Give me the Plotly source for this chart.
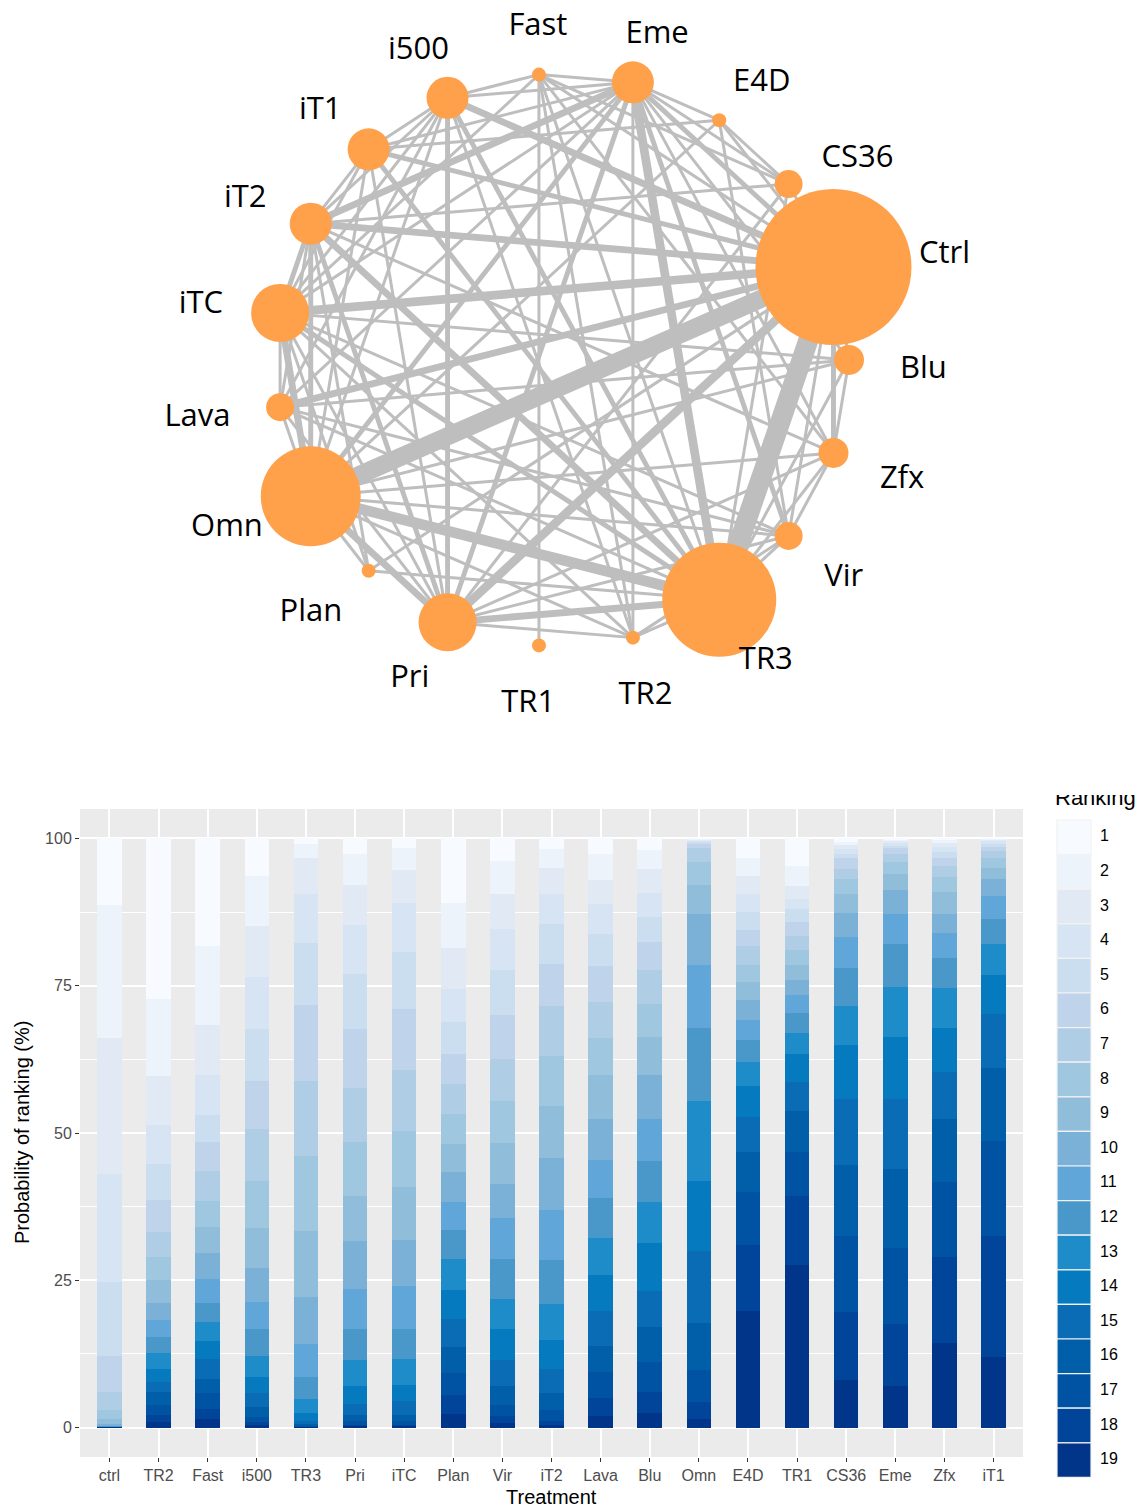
import numpy as np
import plotly.graph_objects as go

# ---------------- data: ranking probabilities ----------------
treatments = ["ctrl", "TR2", "Fast", "i500", "TR3", "Pri", "iTC", "Plan", "Vir", "iT2",
              "Lava", "Blu", "Omn", "E4D", "TR1", "CS36", "Eme", "Zfx", "iT1"]
ranks = [str(k) for k in range(1, 20)]

# cumulative probability (%) of being ranked worse than k, for k = 1..18
worse_ctrl = [88.7, 66.1, 43.0, 24.7, 12.2, 6.0, 2.9, 1.4, 0.6, 0.3, 0.2, 0.15, 0.1, 0.07, 0.05, 0.03, 0.02, 0.01]
worse_TR2 = [72.8, 59.7, 51.4, 44.7, 38.7, 33.2, 28.9, 25.0, 21.2, 18.3, 15.3, 12.6, 10.0, 7.7, 6.0, 3.9, 2.2, 1.0]
worse_Fast = [81.7, 68.3, 59.8, 53.1, 48.4, 43.6, 38.5, 34.1, 29.7, 25.2, 21.1, 17.9, 14.7, 11.7, 8.3, 5.9, 3.2, 1.4]
worse_i500 = [93.7, 85.2, 76.4, 67.6, 58.9, 50.6, 41.9, 33.9, 27.0, 21.3, 16.8, 12.2, 8.6, 5.8, 3.5, 1.8, 1.0, 0.4]
worse_TR3 = [99.1, 96.7, 90.6, 82.3, 71.8, 58.9, 46.1, 33.4, 22.1, 14.1, 8.5, 4.9, 2.5, 1.1, 0.6, 0.3, 0.15, 0.05]
worse_Pri = [97.3, 92.1, 85.3, 77.0, 67.6, 57.6, 48.4, 39.3, 31.6, 23.5, 16.8, 11.4, 7.0, 4.0, 2.2, 1.1, 0.5, 0.2]
worse_iTC = [98.4, 94.6, 89.0, 80.7, 71.0, 60.7, 50.3, 40.9, 31.9, 24.0, 16.8, 11.6, 7.3, 4.5, 2.2, 1.1, 0.5, 0.2]
worse_Plan = [89.1, 81.4, 74.5, 68.9, 63.4, 58.3, 53.2, 48.1, 43.3, 38.3, 33.6, 28.6, 23.4, 18.4, 13.7, 9.2, 5.5, 2.3]
worse_Vir = [96.1, 90.6, 84.7, 77.7, 70.1, 62.5, 55.5, 48.3, 41.3, 35.5, 28.6, 21.9, 16.8, 11.4, 7.0, 3.9, 1.9, 0.8]
worse_iT2 = [98.2, 95.0, 90.6, 85.5, 78.7, 71.5, 63.0, 54.5, 45.7, 36.9, 28.5, 21.0, 14.8, 9.9, 5.8, 2.9, 1.1, 0.4]
worse_Lava = [97.3, 92.9, 88.8, 83.7, 78.3, 72.2, 66.2, 59.9, 52.3, 45.4, 38.9, 32.1, 25.9, 19.8, 13.8, 9.5, 5.1, 1.9]
worse_Blu = [98.0, 94.8, 90.8, 86.7, 82.4, 77.6, 71.9, 66.3, 59.9, 52.3, 45.3, 38.3, 31.4, 23.2, 17.0, 11.2, 6.0, 2.4]
worse_Omn = [99.9, 99.8, 99.6, 99.4, 99.0, 98.3, 96.0, 92.1, 87.2, 78.6, 67.8, 55.4, 41.9, 30.0, 17.8, 9.7, 4.3, 1.4]
worse_E4D = [96.6, 93.7, 90.6, 87.6, 84.5, 81.7, 78.6, 75.6, 72.6, 69.1, 65.8, 62.0, 57.9, 52.7, 46.8, 40.0, 31.0, 19.8]
worse_TR1 = [95.4, 92.0, 89.8, 88.1, 85.8, 83.4, 81.0, 78.6, 75.9, 73.5, 70.4, 67.0, 63.4, 58.6, 53.7, 46.8, 39.3, 27.6]
worse_CS36 = [99.4, 98.9, 98.2, 97.4, 96.6, 94.9, 93.2, 90.5, 87.4, 83.3, 78.0, 71.5, 64.9, 55.8, 44.5, 32.6, 19.6, 8.1]
worse_Eme = [99.8, 99.5, 99.2, 98.8, 98.3, 97.4, 96.0, 94.0, 91.2, 87.1, 82.1, 74.8, 66.3, 55.7, 43.9, 30.4, 17.5, 7.0]
worse_Zfx = [99.7, 99.3, 98.6, 97.7, 96.6, 95.4, 93.5, 90.9, 87.2, 84.0, 79.7, 74.6, 67.8, 60.4, 52.3, 41.6, 29.0, 14.3]
worse_iT1 = [99.9, 99.7, 99.5, 99.1, 98.6, 97.9, 96.6, 95.0, 93.2, 90.2, 86.3, 82.1, 76.9, 70.2, 61.0, 48.7, 32.5, 12.0]

# ---------------- data: network ----------------
net_nodes = ["Fast", "Eme", "E4D", "CS36", "Ctrl", "Blu", "Zfx", "Vir", "TR3", "TR2",
             "TR1", "Pri", "Plan", "Omn", "Lava", "iTC", "iT2", "iT1", "i500"]
node_n = [14, 42, 14, 28, 156, 30, 30, 28, 114, 14, 14, 58, 14, 100, 28, 58, 42, 42, 42]

edge_from = ["Ctrl", "Ctrl", "Omn", "Ctrl", "Ctrl", "Ctrl", "Ctrl", "Ctrl", "Ctrl", "Ctrl",
             "Eme", "Eme", "Eme", "Eme", "Eme", "iT2", "iTC", "Omn", "Pri", "iT1",
             "i500", "iTC", "iT2", "Lava", "iT2", "Omn",
             "Fast", "Fast", "Fast", "Fast", "Fast", "Fast", "Fast", "Fast", "TR1",
             "Eme", "Eme", "Eme", "Eme", "Eme", "Eme", "Eme", "Eme", "Eme",
             "E4D", "E4D", "E4D", "E4D", "E4D",
             "CS36", "CS36", "CS36", "CS36",
             "Ctrl", "Ctrl", "Ctrl", "Ctrl",
             "Blu", "Blu", "Blu", "Blu", "Blu",
             "Zfx", "Zfx", "Zfx", "Zfx", "Zfx",
             "Vir", "Vir", "Vir", "Vir",
             "TR3", "TR3",
             "TR2", "TR2", "TR2", "TR2", "TR2",
             "Pri", "Pri", "Pri", "Pri",
             "Plan", "Plan", "Plan",
             "Omn", "Omn", "Omn",
             "Lava", "Lava", "Lava",
             "iTC", "iTC", "iTC",
             "iT2", "iT2", "iT1"]
edge_to = ["TR3", "Omn", "TR3", "iTC", "Pri", "iT2", "i500", "Lava", "Eme", "iT1",
           "TR3", "iT2", "Pri", "Omn", "Vir", "TR3", "Omn", "Pri", "TR3", "TR3",
           "TR3", "TR3", "Omn", "TR3", "Pri", "Vir",
           "Eme", "Ctrl", "iTC", "TR2", "Zfx", "i500", "CS36", "TR3", "Fast",
           "E4D", "CS36", "i500", "iT1", "iTC", "Lava", "Zfx", "TR2", "Blu",
           "Ctrl", "CS36", "iT1", "Omn", "Vir",
           "TR3", "iT2", "Pri", "Ctrl",
           "Blu", "Zfx", "Vir", "Plan",
           "TR3", "Zfx", "Omn", "iTC", "Lava",
           "TR3", "Vir", "Omn", "iT2", "Pri",
           "TR3", "iTC", "Lava", "Pri",
           "TR2", "Plan",
           "Omn", "iTC", "Pri", "i500", "Vir",
           "iTC", "Lava", "i500", "iT1",
           "Omn", "iT2", "iTC",
           "Lava", "iT1", "i500",
           "iTC", "iT2", "i500",
           "iT2", "iT1", "i500",
           "iT1", "i500", "i500"]
edge_n = [10, 9, 5, 4, 4, 3, 3, 3, 2, 2,
          4, 3, 2, 2, 2, 3, 3, 3, 3, 2,
          2, 2, 2, 1, 2, 1,
          1, 1, 1, 1, 1, 1, 1, 1, 1,
          1, 1, 1, 1, 1, 1, 1, 1, 1,
          1, 1, 1, 1, 1,
          1, 1, 1, 1,
          1, 2, 1, 1,
          1, 1, 1, 1, 1,
          1, 1, 1, 1, 1,
          1, 1, 1, 1,
          1, 1,
          1, 1, 1, 1, 1,
          1, 1, 2, 1,
          1, 1, 1,
          1, 1, 1,
          1, 1, 1,
          2, 1, 1,
          1, 1, 1]

# ---------------- styles ----------------
rank_colors = ["#F7FBFF", "#EDF3FB", "#E1E9F5", "#D6E4F3", "#CBDEF0", "#BFD4EA", "#AFCDE4",
               "#9FC8E0", "#8FBDDA", "#7BB1D7", "#60A6D8", "#4A98CA", "#1D8CC8", "#057ABF",
               "#0A6CB4", "#015EA9", "#0052A2", "#004599", "#00358A"]
W, H = 1142, 1508
TXT = "Liberation Sans, Arial, sans-serif"
NETFONT = "Open Sans, Noto Sans, sans-serif"
NODE_COLOR = "#FFA04B"
EDGE_COLOR = "#BEBEBE"

worse = np.array([worse_ctrl, worse_TR2, worse_Fast, worse_i500, worse_TR3, worse_Pri, worse_iTC,
                  worse_Plan, worse_Vir, worse_iT2, worse_Lava, worse_Blu, worse_Omn, worse_E4D,
                  worse_TR1, worse_CS36, worse_Eme, worse_Zfx, worse_iT1], dtype=float)
bounds = np.hstack([np.full((len(treatments), 1), 100.0), worse, np.zeros((len(treatments), 1))])
probs = -np.diff(bounds, axis=1)  # (treatment, rank)

fig = go.Figure()

# ---- stacked bars (rank 19 at bottom, rank 1 on top)
for k in range(18, -1, -1):
    fig.add_trace(go.Bar(x=treatments, y=probs[:, k], name=ranks[k], marker_color=rank_colors[k],
                         marker_line_width=0, width=0.5, showlegend=False,
                         xaxis="x", yaxis="y", hoverinfo="skip"))

# ---- network (axis 2 in pixel-like units), circular layout
cx, cy, R = 562.6, 360.0, 286.4
nn = len(net_nodes)
ang = np.deg2rad(94.74 - 360.0 / nn * np.arange(nn))
nx = cx + R * np.cos(ang)
ny = cy - R * np.sin(ang)
pos = {n: (nx[i], ny[i]) for i, n in enumerate(net_nodes)}

for w in sorted(set(edge_n)):
    xs, ys = [], []
    for a, b, n in zip(edge_from, edge_to, edge_n):
        if n == w:
            xs += [pos[a][0], pos[b][0], None]
            ys += [pos[a][1], pos[b][1], None]
    fig.add_trace(go.Scatter(x=xs, y=ys, mode="lines",
                             line=dict(color=EDGE_COLOR, width=3.0 + 1.9 * (w - 1)),
                             showlegend=False, hoverinfo="skip", xaxis="x2", yaxis="y2"))

fig.add_trace(go.Scatter(x=nx, y=ny, mode="markers",
                         marker=dict(size=node_n, color=NODE_COLOR, line=dict(width=0), opacity=1),
                         showlegend=False, hoverinfo="skip", xaxis="x2", yaxis="y2"))

# labels placed just outside each node, slightly rotated clockwise
lx, ly = [], []
for i, n in enumerate(net_nodes):
    r = node_n[i] / 2
    a = ang[i] - np.deg2rad(4)
    dx = np.cos(a) * (40 + 0.5 * r + 9 * len(n))
    dy = -np.sin(a) * (52 + 0.2 * r) + 6
    lx.append(nx[i] + dx)
    ly.append(ny[i] + dy)
fig.add_trace(go.Scatter(x=lx, y=ly, mode="text", text=net_nodes, textposition="middle center",
                         textfont=dict(family=NETFONT, size=31, color="black"),
                         showlegend=False, hoverinfo="skip", xaxis="x2", yaxis="y2", cliponaxis=False))

# ---- legend (axis 3, pixel-like units), title clipped at the top of the area
leg_top, leg_step = 820.0, 34.6
shapes = [dict(type="rect", xref="x domain", yref="y domain", x0=0, x1=1, y0=0, y1=1,
               fillcolor="#EBEBEB", line=dict(width=0), layer="below")]
for k in range(19):
    shapes.append(dict(type="rect", xref="x3", yref="y3", x0=1057, x1=1091,
                       y0=leg_top + k * leg_step, y1=leg_top + (k + 1) * leg_step,
                       fillcolor=rank_colors[k], line=dict(color="#F2F2F2", width=1.2), layer="above"))
fig.add_trace(go.Scatter(x=[1100] * 19, y=[leg_top + (k + 0.5) * leg_step for k in range(19)],
                         mode="text", text=ranks, textposition="middle right",
                         textfont=dict(family=TXT, size=16, color="black"),
                         showlegend=False, hoverinfo="skip", xaxis="x3", yaxis="y3", cliponaxis=False))
fig.add_trace(go.Scatter(x=[1055], y=[799], mode="text", text=["Ranking"], textposition="middle right",
                         textfont=dict(family=TXT, size=22, color="black"),
                         showlegend=False, hoverinfo="skip", xaxis="x3", yaxis="y3", cliponaxis=True))


def py(pix):
    return (H - pix) / H


fig.update_layout(
    width=W, height=H, margin=dict(l=0, r=0, t=0, b=0),
    paper_bgcolor="white", plot_bgcolor="rgba(0,0,0,0)",
    barmode="stack", showlegend=False,
    shapes=shapes,
    xaxis=dict(domain=[80 / W, 1023 / W], anchor="y", type="category", range=[-0.6, 18.6],
               showgrid=True, gridcolor="white", gridwidth=2, zeroline=False, showline=False,
               ticks="outside", ticklen=4, tickcolor="#333333", tickwidth=1,
               tickfont=dict(family=TXT, size=16, color="#4D4D4D"), fixedrange=True),
    yaxis=dict(domain=[py(1457), py(809)], anchor="x", range=[-5, 105],
               tickvals=[0, 25, 50, 75, 100], ticktext=["0", "25", "50", "75", "100"],
               showgrid=True, gridcolor="white", gridwidth=2, zeroline=False, showline=False,
               minor=dict(tickvals=[12.5, 37.5, 62.5, 87.5], showgrid=True, gridcolor="white", gridwidth=1),
               ticks="outside", ticklen=4, tickcolor="#333333", tickwidth=1,
               tickfont=dict(family=TXT, size=16, color="#4D4D4D"), fixedrange=True),
    xaxis2=dict(domain=[0, 1], anchor="y2", range=[0, W], visible=False, fixedrange=True),
    yaxis2=dict(domain=[py(740), 1], anchor="x2", range=[740, 0], visible=False, fixedrange=True),
    xaxis3=dict(domain=[1040 / W, 1], anchor="y3", range=[1040, W], visible=False, fixedrange=True),
    yaxis3=dict(domain=[py(1500), py(795)], anchor="x3", range=[1500, 795], visible=False, fixedrange=True),
    annotations=[
        dict(text="Probability of ranking (%)", x=22 / W, y=py(1133), xref="paper", yref="paper",
             xanchor="center", yanchor="middle",
             textangle=-90, showarrow=False, font=dict(family=TXT, size=20, color="black")),
        dict(text="Treatment", x=551.5 / W, y=py(1497), xref="paper", yref="paper",
             xanchor="center", yanchor="middle",
             showarrow=False, font=dict(family=TXT, size=20, color="black")),
    ],
)

fig.write_html("out.html", config={"displayModeBar": False, "staticPlot": True},
               post_script="document.body.style.margin='0px';document.body.style.overflow='hidden';")
